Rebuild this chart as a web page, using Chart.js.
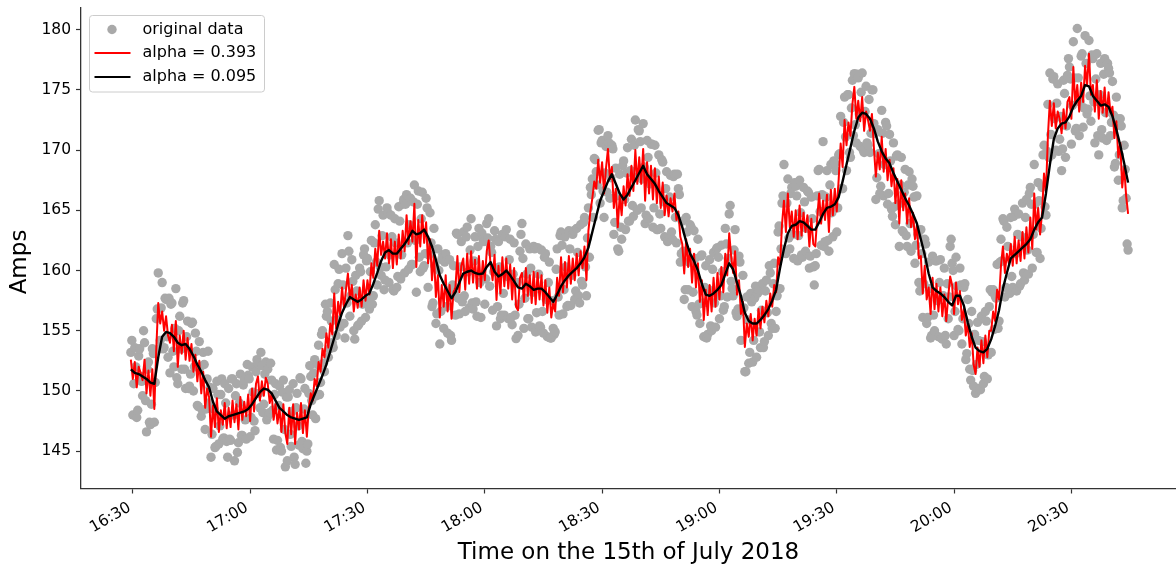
<!DOCTYPE html>
<html lang="en">
<head>
<meta charset="UTF-8">
<title>Amps - exponential smoothing</title>
<script src="https://cdn.jsdelivr.net/npm/chart.js@4"></script>
<style>
  html, body { margin: 0; padding: 0; background: #fff; }
  #wrap { width: 1176px; height: 569px; }
</style>
</head>
<body>
<div id="wrap"><canvas id="ampsChart" width="1176" height="569"></canvas></div>
<script>
// time is counted in minutes after 16:00, first reading at 16:29:30
const startMinute = 29.5;
const rawStep = 0.25;   // measured current, every 15 s
const fastStep = 0.5;   // alpha = 0.393 curve, every 30 s
const slowStep = 1;     // alpha = 0.095 curve, every minute

const ampsRaw = [
  153.2, 154.2, 148.0, 150.6, 153.6, 152.0, 147.8, 148.4, 152.9, 153.5, 151.2, 150.8, 149.6, 155.0, 154.0, 149.2, 146.6, 151.8, 152.4, 147.4,
  147.2, 148.9, 153.5, 153.1, 147.4, 150.7, 156.0, 156.8, 159.8, 153.5, 154.2, 156.9, 159.0, 153.5, 153.6, 157.7, 157.6, 154.5, 152.8, 157.7,
  151.5, 157.2, 157.3, 153.3, 152.0, 155.2, 158.5, 151.1, 150.6, 155.0, 156.2, 153.5, 151.8, 157.3, 157.5, 151.8, 150.2, 154.5, 155.8, 150.2,
  150.4, 151.4, 155.6, 155.7, 150.0, 152.0, 154.8, 153.3, 148.8, 148.7, 154.1, 152.0, 147.9, 148.4, 153.2, 152.2, 146.8, 148.5, 151.0, 153.3,
  149.0, 150.3, 144.5, 146.4, 150.2, 148.5, 145.3, 145.4, 150.8, 149.7, 145.6, 147.1, 149.7, 151.0, 146.0, 146.1, 150.6, 149.0, 145.8, 144.5,
  150.2, 146.0, 145.9, 151.0, 151.0, 148.0, 144.2, 149.6, 150.6, 144.9, 145.7, 149.0, 151.4, 146.3, 146.3, 150.5, 150.9, 147.6, 146.0, 152.2,
  151.3, 151.0, 146.2, 147.8, 152.0, 149.9, 147.5, 146.7, 151.6, 152.6, 152.3, 149.8, 148.6, 153.2, 152.1, 148.2, 148.9, 151.4, 152.4, 147.6,
  151.8, 148.0, 148.2, 152.3, 150.9, 148.4, 146.0, 149.7, 150.6, 145.1, 145.9, 148.8, 150.4, 145.3, 145.0, 149.9, 150.9, 146.8, 143.7, 149.5,
  144.2, 149.5, 150.1, 146.4, 145.4, 148.3, 150.6, 144.5, 143.9, 148.6, 149.8, 147.1, 145.5, 151.1, 151.0, 145.8, 145.2, 148.5, 150.2, 144.0,
  145.0, 145.6, 149.8, 152.1, 151.2, 149.2, 148.0, 151.5, 152.6, 147.7, 149.6, 152.2, 153.8, 149.7, 150.7, 154.7, 155.0, 152.3, 151.6, 157.2,
  156.2, 156.6, 152.8, 153.5, 157.3, 155.8, 154.0, 153.6, 160.5, 158.4, 154.6, 155.9, 158.9, 160.1, 155.3, 155.5, 161.4, 158.8, 155.6, 154.4,
  160.2, 157.3, 162.9, 161.6, 156.2, 157.9, 160.9, 159.1, 155.0, 154.3, 159.6, 158.3, 155.4, 155.5, 160.2, 159.9, 155.8, 157.2, 161.3, 161.8,
  156.1, 160.8, 161.0, 157.5, 156.8, 159.9, 162.5, 157.2, 157.9, 162.3, 163.8, 160.7, 158.8, 165.1, 165.8, 160.3, 159.6, 162.9, 164.6, 158.4,
  159.2, 160.3, 165.2, 164.8, 159.0, 161.3, 164.6, 162.8, 158.4, 158.3, 164.3, 162.3, 158.6, 159.5, 165.3, 164.1, 159.3, 161.3, 165.5, 165.9,
  159.8, 165.5, 166.3, 162.3, 160.1, 163.8, 166.0, 160.5, 160.5, 165.7, 167.1, 162.5, 158.2, 165.5, 166.6, 161.1, 159.9, 164.3, 166.5, 160.2,
  160.4, 161.4, 166.0, 165.2, 158.6, 161.3, 164.8, 162.3, 157.0, 157.3, 163.5, 160.4, 155.6, 156.4, 161.8, 160.0, 153.9, 156.6, 160.9, 161.3,
  155.2, 160.7, 161.4, 157.0, 154.8, 158.3, 160.9, 154.6, 154.2, 158.8, 160.4, 158.0, 156.3, 163.1, 163.0, 157.7, 156.4, 160.3, 162.4, 157.4,
  163.2, 157.9, 156.6, 162.8, 163.6, 159.9, 156.9, 161.7, 164.3, 157.3, 156.8, 160.8, 162.8, 157.4, 156.2, 162.0, 163.5, 159.0, 156.1, 163.1,
  162.6, 162.4, 157.2, 159.3, 163.9, 162.7, 164.3, 158.7, 162.0, 161.5, 156.7, 159.9, 163.3, 162.6, 155.4, 157.0, 162.4, 160.3, 156.0, 156.3,
  163.0, 158.1, 156.3, 162.8, 163.4, 159.5, 156.0, 160.9, 162.6, 156.1, 155.5, 159.7, 162.3, 156.3, 154.35, 159.0, 154.6, 157.2, 161.6, 163.0,
  163.9, 161.0, 155.2, 157.7, 162.2, 159.7, 156.0, 156.0, 161.8, 160.2, 155.3, 158.2, 162.0, 161.8, 154.9, 156.5, 161.9, 159.7, 155.4, 155.3,
  161.7, 156.6, 154.8, 161.1, 161.4, 157.6, 154.5, 159.0, 160.7, 154.4, 154.4, 157.5, 155.2, 154.7, 154.9, 160.1, 161.8, 157.8, 156.3, 162.9,
  163.2, 162.1, 156.4, 158.4, 162.8, 160.3, 157.0, 157.1, 163.3, 161.8, 157.1, 159.6, 163.0, 163.3, 157.6, 158.3, 163.5, 161.5, 157.9, 157.3,
  163.8, 159.1, 158.8, 164.0, 164.4, 160.3, 157.9, 162.7, 165.2, 161.1, 166.9, 166.3, 167.6, 164.4, 169.3, 169.2, 168.2, 167.1, 171.65, 171.7,
  165.6, 170.6, 170.8, 166.6, 164.4, 168.1, 170.3, 166.5, 171.2, 170.6, 166.0, 167.7, 170.4, 170.1, 163.0, 164.0, 168.5, 166.2, 161.8, 161.6,
  168.0, 163.6, 162.6, 168.7, 169.1, 165.9, 163.4, 168.1, 170.2, 164.1, 164.1, 168.3, 170.9, 165.4, 164.5, 170.4, 172.5, 167.7, 165.0, 171.7,
  171.6, 170.7, 165.2, 167.6, 172.2, 168.6, 163.9, 164.6, 170.8, 169.4, 164.3, 167.2, 170.5, 170.5, 163.6, 165.2, 170.4, 168.1, 163.4, 163.4,
  169.6, 164.7, 163.5, 169.2, 169.0, 165.7, 162.8, 166.8, 168.2, 162.4, 162.5, 166.1, 167.9, 163.2, 162.6, 167.8, 168.0, 164.4, 162.3, 168.0,
  166.8, 166.3, 160.7, 161.4, 164.1, 161.6, 157.6, 158.4, 164.4, 163.2, 158.4, 160.7, 163.8, 163.6, 157.0, 158.2, 163.3, 161.0, 156.6, 156.3,
  162.6, 157.2, 155.6, 161.2, 161.3, 157.3, 154.5, 158.6, 160.4, 154.4, 154.7, 158.4, 160.9, 155.4, 155.0, 160.1, 161.5, 157.3, 155.3, 161.8,
  161.9, 161.1, 156.0, 157.9, 162.1, 159.9, 156.7, 157.0, 163.5, 162.2, 157.8, 161.0, 164.7, 165.4, 159.1, 158.5, 157.9, 161.7, 163.4, 156.5,
  156.2, 156.8, 161.2, 160.7, 154.2, 156.6, 159.6, 156.9, 151.6, 151.6, 157.8, 155.9, 152.3, 153.2, 158.1, 157.4, 152.4, 154.2, 157.7, 158.7,
  152.8, 158.1, 158.4, 154.9, 153.6, 156.7, 158.9, 153.6, 154.1, 158.3, 159.2, 156.5, 154.6, 160.4, 159.8, 155.6, 155.2, 158.9, 160.6, 155.2,
  156.6, 157.9, 163.2, 163.7, 158.5, 161.8, 165.6, 166.2, 168.8, 161.5, 161.4, 165.6, 167.6, 162.7, 161.8, 166.4, 166.9, 163.0, 161.0, 167.3,
  167.0, 166.2, 160.8, 162.9, 167.5, 164.8, 161.3, 161.1, 166.9, 165.7, 161.6, 163.5, 166.6, 166.5, 160.2, 161.2, 166.1, 164.3, 160.3, 158.8,
  160.4, 161.4, 166.2, 168.3, 168.4, 164.9, 162.1, 166.3, 170.7, 162.0, 162.4, 166.1, 168.3, 162.5, 161.6, 167.1, 168.8, 164.8, 162.8, 169.1,
  168.9, 168.3, 163.2, 165.2, 169.6, 169.7, 172.8, 166.8, 166.8, 172.3, 174.4, 171.1, 168.3, 174.6, 174.6, 169.8, 169.4, 173.5, 175.8, 171.2,
  176.35, 172.1, 170.6, 176.3, 176.0, 173.0, 170.3, 174.8, 176.4, 170.0, 169.8, 173.2, 175.3, 170.6, 170.4, 174.2, 169.8, 171.4, 175.0, 175.0,
  172.2, 171.4, 165.9, 167.7, 171.7, 169.7, 166.4, 167.0, 173.3, 171.4, 166.2, 168.8, 172.3, 172.0, 165.5, 166.4, 171.3, 169.1, 165.1, 164.5,
  170.6, 165.3, 163.8, 169.5, 169.6, 165.5, 162.0, 167.1, 169.4, 163.3, 163.2, 166.5, 168.4, 162.9, 162.0, 167.1, 168.2, 163.9, 161.6, 167.6,
  167.0, 166.1, 160.6, 162.1, 166.2, 163.0, 159.0, 158.3, 163.4, 161.4, 156.1, 158.9, 162.6, 162.2, 155.6, 156.1, 160.7, 158.5, 154.4, 154.6,
  161.2, 156.3, 155.0, 160.8, 160.8, 157.5, 154.5, 159.0, 160.9, 154.4, 154.3, 157.9, 160.2, 154.6, 153.9, 158.9, 156.0, 157.8, 162.0, 162.6,
  160.6, 160.0, 154.6, 156.6, 161.1, 158.7, 155.1, 155.0, 160.2, 158.8, 153.9, 156.0, 158.6, 158.9, 152.6, 153.1, 157.6, 155.6, 151.8, 150.9,
  156.6, 151.7, 150.4, 154.7, 149.8, 152.2, 155.7, 154.2, 150.2, 150.1, 156.2, 154.1, 150.6, 151.2, 156.6, 155.8, 151.0, 153.0, 157.0, 158.4,
  153.2, 158.2, 158.4, 155.1, 157.9, 157.7, 160.5, 155.2, 155.8, 160.7, 162.6, 160.8, 164.3, 164.1, 157.8, 158.6, 163.6, 162.0, 158.4, 158.1,
  164.4, 159.5, 158.6, 164.5, 165.1, 161.4, 158.3, 163.0, 164.7, 158.7, 158.9, 162.8, 165.6, 159.8, 159.2, 164.4, 165.9, 161.7, 159.7, 166.4,
  166.9, 165.5, 160.2, 163.0, 168.8, 165.5, 161.5, 161.5, 167.3, 165.8, 161.0, 163.5, 166.9, 169.6, 170.4, 165.3, 164.6, 169.9, 173.8, 169.4,
  176.4, 171.3, 169.6, 175.9, 176.1, 172.6, 170.0, 173.9, 175.5, 169.9, 170.9, 172.8, 168.3, 170.1, 175.8, 174.7, 169.4, 172.0, 176.2, 177.6,
  176.9, 175.9, 170.5, 173.7, 179.0, 176.0, 171.6, 171.8, 180.1, 176.0, 171.2, 174.0, 177.8, 178.0, 171.9, 173.5, 179.5, 177.2, 173.0, 173.4,
  179.1, 174.5, 172.4, 177.9, 177.6, 174.0, 170.6, 175.9, 178.0, 171.2, 169.6, 174.6, 177.2, 171.7, 171.0, 176.3, 177.6, 173.1, 170.8, 177.2,
  176.8, 176.4, 171.2, 172.3, 175.7, 172.9, 168.6, 168.9, 174.4, 172.6, 167.5, 169.6, 172.6, 172.0, 165.2, 165.8, 170.4, 168.4, 166.0, 162.2,
  161.7
];

const ampsFast = [
  152.6, 151.0, 152.4, 150.3, 152.0, 151.5, 150.9, 152.6, 149.8, 151.7,
  149.6, 151.8, 148.5, 153.5, 157.3, 155.6, 156.6, 155.0, 156.2, 154.6,
  154.0, 155.5, 153.3, 155.8, 152.0, 154.6, 153.1, 155.0, 152.6, 154.4,
  152.5, 153.9, 151.6, 153.0, 150.8, 152.5, 149.8, 151.6, 148.6, 150.2,
  149.5, 146.2, 148.8, 147.0, 149.4, 146.6, 148.4, 147.2, 149.0, 146.9,
  148.6, 147.0, 149.2, 147.4, 148.9, 146.8, 149.5, 147.6, 149.1, 147.9,
  149.7, 147.5, 150.2, 148.3, 150.6, 151.2, 149.2, 150.8, 149.6, 151.1,
  150.6, 149.0, 149.8, 147.6, 148.9, 147.3, 148.6, 146.6, 148.9, 146.5,
  145.6, 148.6, 146.4, 148.9, 145.6, 148.2, 146.8, 149.0, 146.5, 148.4,
  146.2, 148.6, 149.8, 149.2, 151.0, 150.4, 152.4, 151.6, 153.5, 152.8,
  154.8, 153.6, 155.6, 154.7, 158.1, 155.2, 157.4, 156.3, 158.6, 156.9,
  158.4, 159.75, 157.6, 158.8, 156.6, 158.0, 156.9, 158.6, 157.0, 159.2,
  157.5, 159.2, 158.0, 160.6, 159.4, 161.8, 160.4, 163.3, 161.3, 162.4,
  161.0, 163.1, 160.6, 162.6, 160.2, 162.4, 160.5, 163.0, 161.0, 163.3,
  161.6, 164.6, 162.2, 164.1, 162.4, 165.55, 160.3, 164.2, 162.0, 164.6,
  162.3, 164.0, 160.6, 162.6, 159.2, 161.3, 157.8, 159.6, 156.1, 158.8,
  157.0, 159.6, 156.6, 158.8, 156.0, 158.2, 158.6, 161.2, 158.2, 160.4,
  161.0, 158.4, 161.4, 158.9, 161.6, 159.0, 160.9, 158.5, 161.2, 158.6,
  160.8, 159.2, 161.6, 162.5, 160.4, 159.2, 161.3, 157.55, 160.4, 158.1,
  161.1, 158.7, 161.0, 158.5, 160.5, 157.6, 160.2, 157.0, 156.7, 159.4,
  159.8, 157.4, 160.2, 157.9, 159.6, 157.3, 159.9, 157.2, 159.8, 157.6,
  159.6, 157.1, 159.2, 156.5, 158.6, 156.1, 157.3, 156.6, 159.4, 157.9,
  161.1, 158.2, 160.7, 158.6, 161.2, 158.9, 161.0, 159.2, 161.4, 159.6,
  161.6, 160.2, 162.0, 159.2, 163.3, 164.9, 166.0, 167.4, 166.8, 169.2,
  167.3, 169.0, 166.4, 168.5, 170.1, 167.6, 168.6, 165.2, 166.8, 163.6,
  166.2, 164.6, 167.0, 165.4, 168.0, 166.2, 168.7, 166.6, 170.0, 167.2,
  169.4, 167.2, 170.1, 165.8, 169.0, 166.4, 168.7, 165.9, 168.5, 165.6,
  167.8, 165.2, 167.3, 164.6, 166.2, 164.5, 166.0, 164.9, 166.4, 164.2,
  164.9, 162.8, 162.2, 159.75, 162.6, 160.3, 161.8, 159.0, 161.4, 158.6,
  160.6, 157.4, 159.2, 155.9, 158.4, 156.3, 158.8, 156.6, 159.4, 157.0,
  159.8, 157.6, 160.3, 158.2, 161.4, 159.6, 163.1, 161.2, 159.8, 161.6,
  158.0, 159.2, 156.4, 157.4, 153.65, 155.6, 154.5, 156.4, 154.2, 156.0,
  154.6, 156.8, 155.2, 157.0, 155.7, 157.5, 156.2, 158.1, 157.0, 158.8,
  158.2, 161.1, 160.4, 163.8, 165.8, 163.2, 166.4, 163.6, 164.9, 162.8,
  165.0, 162.6, 165.4, 162.9, 164.8, 163.2, 164.6, 162.0, 164.3, 162.2,
  162.0, 164.3, 166.4, 163.9, 165.8, 164.2, 166.3, 163.2, 166.7, 164.6,
  166.8, 164.9, 167.6, 170.55, 168.6, 172.5, 170.4, 172.3, 171.2, 173.8,
  175.25, 172.6, 174.1, 172.4, 174.4, 171.6, 173.2, 172.5, 171.6, 173.0,
  170.2, 167.8, 169.8, 168.4, 171.1, 168.2, 170.1, 167.5, 169.2, 167.0,
  168.5, 165.6, 167.6, 163.9, 167.5, 165.0, 166.4, 163.9, 166.0, 163.6,
  164.8, 162.6, 163.8, 161.0, 161.2, 158.1, 160.4, 157.6, 158.6, 156.4,
  159.4, 156.8, 158.9, 156.6, 158.6, 156.2, 158.0, 155.8, 157.8, 159.5,
  158.8, 156.4, 159.0, 157.2, 158.3, 155.9, 156.8, 154.6, 155.6, 153.65,
  154.8, 152.2, 151.4, 153.6, 152.0, 154.2, 152.3, 154.6, 152.8, 155.0,
  155.0, 156.6, 155.8, 158.4, 157.6, 160.4, 162.0, 159.8, 161.4, 160.6,
  162.2, 160.4, 162.8, 160.6, 162.5, 160.8, 163.2, 161.0, 163.6, 161.5,
  164.4, 161.8, 166.4, 163.4, 165.2, 163.0, 164.8, 168.05, 166.5, 171.2,
  174.1, 172.0, 173.9, 171.8, 173.2, 172.6, 171.4, 173.4, 171.8, 174.0,
  174.4, 172.6, 176.9, 173.8, 175.4, 173.2, 175.6, 174.0, 177.0, 175.4,
  178.0, 174.6, 175.4, 173.2, 175.8, 172.6, 174.9, 173.1, 175.2, 172.8,
  174.8, 173.1, 173.6, 171.0, 172.4, 169.4, 170.6, 166.9, 168.6, 166.2,
  164.7
];

const ampsSlow = [
  151.8, 151.5, 151.4, 151.2, 151.0, 150.7, 150.6, 152.8, 154.5, 154.9,
  154.8, 154.5, 154.0, 153.8, 153.9, 153.5, 152.9, 152.2, 151.6, 150.9,
  150.3, 149.1, 148.3, 148.0, 147.7, 147.9, 148.0, 148.1, 148.2, 148.3,
  148.5, 148.9, 149.4, 149.9, 150.2, 150.1, 149.8, 149.2, 148.6, 148.3,
  148.0, 147.8, 147.7, 147.6, 147.7, 147.8, 148.9, 149.7, 150.5, 151.3,
  152.2, 153.3, 154.4, 155.5, 156.5, 157.2, 157.8, 157.6, 157.4, 157.6,
  157.9, 158.1, 158.9, 159.8, 160.8, 161.5, 161.7, 161.4, 161.4, 161.8,
  162.2, 162.7, 163.3, 163.0, 163.1, 163.4, 162.8, 162.0, 160.9, 159.6,
  158.9, 158.3, 157.7, 158.2, 159.0, 159.75, 159.9, 160.0, 159.8, 159.7,
  159.75, 160.3, 160.7, 159.9, 159.5, 159.7, 160.0, 159.6, 159.1, 158.6,
  158.5, 158.9, 158.7, 158.4, 158.5, 158.5, 158.2, 157.8, 157.4, 158.0,
  158.7, 159.2, 159.6, 159.9, 160.2, 160.6, 161.1, 161.9, 163.2, 164.5,
  165.8, 166.6, 167.4, 168.0, 167.2, 166.4, 165.9, 166.3, 166.9, 167.5,
  168.1, 168.7, 168.0, 167.6, 167.2, 166.6, 166.1, 165.6, 165.4, 165.2,
  164.6, 163.6, 162.4, 161.4, 160.8, 160.0, 158.9, 158.0, 157.9, 158.1,
  158.4, 158.8, 159.7, 160.6, 160.1, 159.0, 157.9, 156.5, 155.8, 155.6,
  155.6, 155.9, 156.3, 156.8, 157.5, 158.4, 160.2, 161.8, 163.1, 163.7,
  163.8, 164.1, 164.0, 163.7, 163.4, 163.4, 164.0, 164.7, 165.2, 165.3,
  165.5, 166.1, 167.4, 168.8, 170.2, 171.6, 172.7, 173.1, 173.0, 172.6,
  171.8, 170.7, 169.9, 169.3, 168.9, 168.1, 167.4, 166.7, 166.0, 165.4,
  164.7, 163.9, 162.6, 161.3, 159.75, 158.6, 158.3, 158.1, 157.8, 157.4,
  157.1, 157.9, 157.9, 157.1, 155.7, 154.5, 153.6, 153.3, 153.2, 153.5,
  154.3, 155.4, 156.7, 158.5, 159.8, 161.0, 161.3, 161.6, 161.9, 162.2,
  162.6, 163.4, 164.0, 164.4, 166.4, 168.8, 170.9, 171.8, 172.2, 172.3,
  172.8, 173.6, 174.1, 174.5, 175.4, 175.3, 174.5, 174.1, 173.7, 173.8,
  173.6, 172.8, 171.7, 170.4, 168.9, 167.3
];

const tickMinutes = [30, 60, 90, 120, 150, 180, 210, 240, 270];
const tickLabels = ['16:30', '17:00', '17:30', '18:00', '18:30', '19:00', '19:30', '20:00', '20:30'];
const yTicks = [145, 150, 155, 160, 165, 170, 175, 180];
const yTitle = 'Amps';

function toPoints(values, step) {
  return values.map((v, i) => ({ x: startMinute + i * step, y: v }));
}

// y axis caption plus the boxed legend in the upper left corner of the plot
const overlay = {
  id: 'overlay',
  afterDatasetsDraw(chart) {
    const ctx = chart.ctx;
    ctx.save();

    ctx.translate(20, 262);
    ctx.rotate(-Math.PI / 2);
    ctx.font = '23px "DejaVu Sans"';
    ctx.fillStyle = '#000';
    ctx.textAlign = 'center';
    ctx.textBaseline = 'middle';
    ctx.fillText(yTitle, 0, 0);
    ctx.setTransform(1, 0, 0, 1, 0, 0);

    const left = chart.chartArea.left + 8.5;
    const top = 15.5;
    ctx.beginPath();
    if (ctx.roundRect) ctx.roundRect(left, top, 175, 76.5, 3);
    else ctx.rect(left, top, 175, 76.5);
    ctx.fillStyle = 'rgba(255,255,255,0.8)';
    ctx.fill();
    ctx.strokeStyle = '#cccccc';
    ctx.lineWidth = 1;
    ctx.stroke();

    const rows = [29.5, 53, 77];
    ctx.font = '16px "DejaVu Sans"';
    ctx.textBaseline = 'middle';
    ctx.textAlign = 'left';
    chart.data.datasets.forEach((ds, i) => {
      const y = rows[i];
      if (ds.showLine === false) {
        ctx.beginPath();
        ctx.arc(left + 22.5, y, 4.7, 0, Math.PI * 2);
        ctx.fillStyle = ds.pointBackgroundColor;
        ctx.fill();
      } else {
        ctx.beginPath();
        ctx.moveTo(left + 5, y);
        ctx.lineTo(left + 41, y);
        ctx.strokeStyle = ds.borderColor;
        ctx.lineWidth = 2;
        ctx.stroke();
      }
      ctx.fillStyle = '#000';
      ctx.fillText(ds.label, left + 53, y);
    });
    ctx.restore();
  }
};

Chart.defaults.font.family = '"DejaVu Sans", sans-serif';

const axisGrid = {
  display: true,
  drawOnChartArea: false,
  drawTicks: true,
  tickLength: 5,
  tickColor: '#333',
  tickWidth: 1.2
};
const axisBorder = { display: true, color: '#333', width: 1.3 };

new Chart(document.getElementById('ampsChart'), {
  type: 'scatter',
  data: {
    datasets: [
      {
        label: 'original data',
        data: toPoints(ampsRaw, rawStep),
        showLine: false,
        pointRadius: 4.7,
        pointHoverRadius: 4.7,
        pointBackgroundColor: '#a9a9a9',
        pointBorderWidth: 0,
        order: 3
      },
      {
        label: 'alpha = 0.393',
        data: toPoints(ampsFast, fastStep),
        showLine: true,
        borderColor: '#ff0000',
        borderWidth: 2,
        borderJoinStyle: 'round',
        pointRadius: 0,
        order: 2
      },
      {
        label: 'alpha = 0.095',
        data: toPoints(ampsSlow, slowStep),
        showLine: true,
        borderColor: '#000000',
        borderWidth: 2.4,
        borderJoinStyle: 'round',
        pointRadius: 0,
        order: 1
      }
    ]
  },
  options: {
    responsive: false,
    animation: false,
    devicePixelRatio: 1,
    layout: { padding: { top: 8, right: 0, bottom: 0, left: 0 }, autoPadding: false },
    plugins: {
      legend: { display: false },
      tooltip: { enabled: false }
    },
    scales: {
      x: {
        type: 'linear',
        min: 16.75,
        max: 296.75,
        afterBuildTicks: s => { s.ticks = tickMinutes.map(v => ({ value: v })); },
        afterFit: s => { s.height = 80.5; s.paddingLeft = 0; s.paddingRight = 0; },
        ticks: {
          autoSkip: false,
          minRotation: 30,
          maxRotation: 30,
          padding: 5,
          labelOffset: -3,
          color: '#000',
          font: { size: 15.5 },
          callback: (v, i) => tickLabels[i]
        },
        grid: axisGrid,
        border: axisBorder,
        title: {
          display: true,
          text: 'Time on the 15th of July 2018',
          color: '#000',
          font: { size: 23 },
          padding: { top: 0, bottom: 2 }
        }
      },
      y: {
        min: 141.9,
        max: 181.8,
        afterBuildTicks: s => { s.ticks = yTicks.map(v => ({ value: v })); },
        afterFit: s => { s.width = 81; s.paddingTop = 0; s.paddingBottom = 0; },
        ticks: {
          padding: 5,
          color: '#000',
          font: { size: 15.5 }
        },
        grid: axisGrid,
        border: axisBorder
      }
    }
  },
  plugins: [overlay]
});
</script>
</body>
</html>
